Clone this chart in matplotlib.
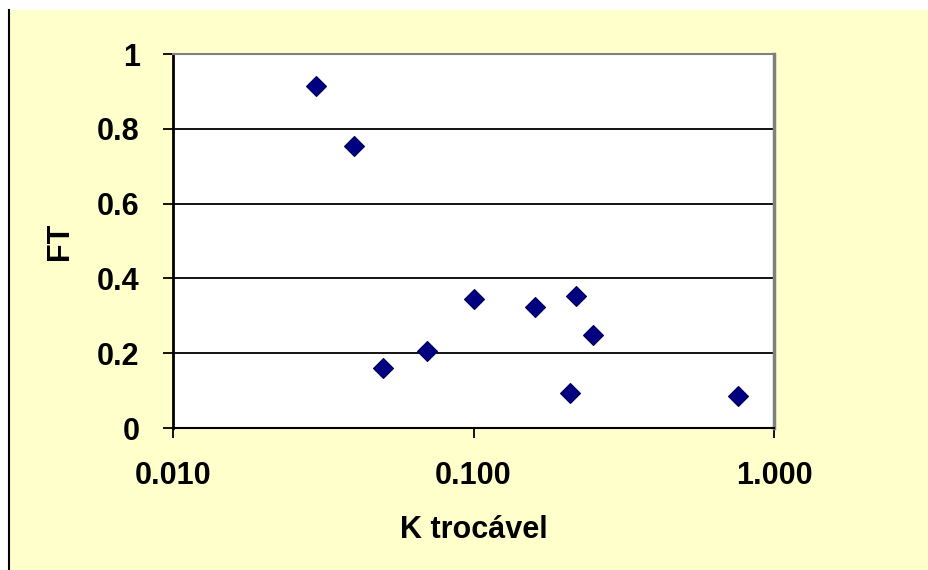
import matplotlib
matplotlib.use('Agg')
import matplotlib.pyplot as plt
from matplotlib.patches import Rectangle
from matplotlib.lines import Line2D
from matplotlib.ticker import FixedLocator, FixedFormatter, NullLocator

# K trocavel vs FT
k_trocavel = [0.030, 0.040, 0.050, 0.070, 0.100, 0.160, 0.220, 0.210, 0.250, 0.760]
ft = [0.914, 0.754, 0.160, 0.206, 0.345, 0.324, 0.354, 0.094, 0.249, 0.086]

x_ticks = [0.01, 0.1, 1.0]
x_labels = ['0.010', '0.100', '1.000']
y_ticks = [0, 0.2, 0.4, 0.6, 0.8, 1.0]
y_labels = ['0', '0.2', '0.4', '0.6', '0.8', '1']

plt.rcParams['font.family'] = ['Liberation Sans', 'DejaVu Sans']

W, H = 929, 570
fig = plt.figure(figsize=(W / 100, H / 100), dpi=100)
fig.patch.set_facecolor('white')

# chart area background (yellow) with left border line
fig.patches.append(Rectangle((8 / W, 0), 1 - 8 / W, 1 - 10 / H,
                             transform=fig.transFigure, facecolor='#FFFFCC',
                             edgecolor='none', zorder=-2))
fig.lines.append(Line2D([8.5 / W, 8.5 / W], [0, 1 - 10 / H],
                        transform=fig.transFigure, color='black', lw=1.5,
                        zorder=-1))

ax = fig.add_axes([173 / W, 1 - 428 / H, (774 - 173) / W, (428 - 54) / H])
ax.set_zorder(1)
ax.set_facecolor('white')
ax.set_xscale('log')
ax.set_xlim(0.01, 1.0)
ax.set_ylim(0, 1)

for y in y_ticks[1:-1]:
    ax.axhline(y, color='black', lw=1.3, zorder=1)

ax.plot(k_trocavel, ft, linestyle='none', marker='D', markersize=10,
        markerfacecolor='#000080', markeredgecolor='#00005a',
        markeredgewidth=0.8, zorder=3, clip_on=False)

ax.xaxis.set_major_locator(FixedLocator(x_ticks))
ax.xaxis.set_major_formatter(FixedFormatter(x_labels))
ax.xaxis.set_minor_locator(NullLocator())
ax.yaxis.set_major_locator(FixedLocator(y_ticks))
ax.yaxis.set_major_formatter(FixedFormatter(y_labels))

ax.tick_params(axis='both', direction='out', length=7, width=1.3,
               color='black', labelsize=22, pad=17)
for lab in ax.get_xticklabels() + ax.get_yticklabels():
    lab.set_fontweight('bold')

ax.spines['left'].set_color('black')
ax.spines['left'].set_linewidth(2)
ax.spines['bottom'].set_color('black')
ax.spines['bottom'].set_linewidth(1.5)
ax.spines['top'].set_color('#808080')
ax.spines['top'].set_linewidth(1.5)
ax.spines['right'].set_color('#808080')
ax.spines['right'].set_linewidth(2.5)

ax.set_xlabel('K trocável', fontsize=22, fontweight='bold', labelpad=17)
ax.set_ylabel('FT', fontsize=22, fontweight='bold', labelpad=16)

fig.savefig('out.png', dpi=100, facecolor=fig.get_facecolor())
